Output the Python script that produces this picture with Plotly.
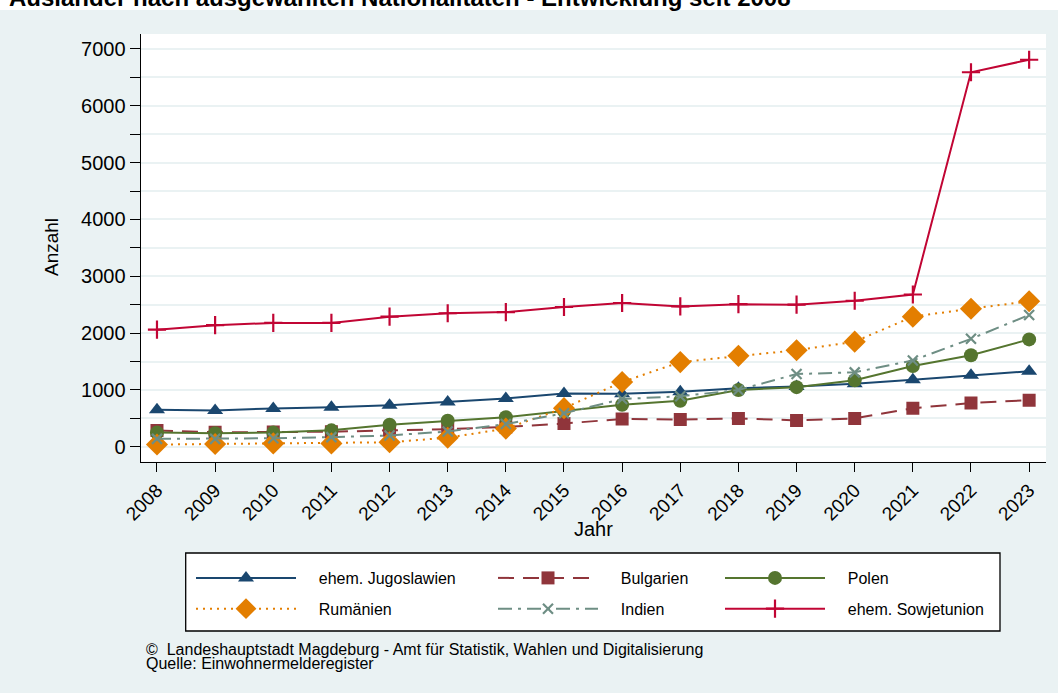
import plotly.graph_objects as go

W, H = 1058, 693

years = list(range(2008, 2024))
year_labels = [str(y) for y in years]

jugoslawien = [650, 640, 675, 695, 730, 790, 850, 940, 935, 970, 1030, 1060, 1110, 1180, 1260, 1330]
bulgarien = [285, 255, 260, 265, 290, 310, 350, 410, 490, 480, 500, 465, 500, 680, 770, 820]
polen = [250, 240, 250, 290, 390, 460, 520, 630, 740, 810, 1000, 1050, 1170, 1420, 1610, 1890]
rumaenien = [40, 50, 60, 60, 80, 160, 320, 680, 1140, 1490, 1600, 1700, 1850, 2290, 2430, 2560]
indien = [140, 140, 150, 170, 200, 270, 400, 590, 840, 890, 1000, 1280, 1310, 1520, 1900, 2320]
sowjetunion = [2060, 2140, 2180, 2180, 2290, 2350, 2370, 2460, 2530, 2470, 2510, 2500, 2570, 2680, 6590, 6810]

y_ticks = [0, 1000, 2000, 3000, 4000, 5000, 6000, 7000]

BG = "#EAF2F3"
FONT = "Liberation Sans, Arial, sans-serif"

def px(x):
    return x / W

def py(y):
    return 1 - y / H

series = [
    ("ehem. Jugoslawien", jugoslawien, "#1a476f", "solid", "triangle-up", 14, "legend"),
    ("Bulgarien", bulgarien, "#90353b", "16px,9px", "square", 13, "legend2"),
    ("Polen", polen, "#55752f", "solid", "circle", 14, "legend3"),
    ("Rumänien", rumaenien, "#e37e00", "2px,5px", "diamond", 17, "legend"),
    ("Indien", indien, "#6e8e84", "14px,6px,3px,6px", "x-thin", 10, "legend2"),
    ("ehem. Sowjetunion", sowjetunion, "#c10534", "solid", "cross-thin", 13, "legend3"),
]

fig = go.Figure()
for i, (name, vals, col, dash, sym, size, leg) in enumerate(series):
    thin = sym.endswith("-thin")
    fig.add_trace(go.Scatter(
        x=years, y=vals, name="\u00a0\u00a0\u00a0\u00a0" + name, mode="lines+markers",
        line=dict(color=col, width=2, dash=dash),
        marker=dict(symbol=sym, size=size, color=col,
                    line=dict(color=col, width=2.2 if thin else 0)),
        legend=leg, legendgroup=name,
    ))

leg_common = dict(
    orientation="v", bgcolor="rgba(0,0,0,0)", borderwidth=0,
    font=dict(family=FONT, size=16, color="#000"),
    itemwidth=100, tracegroupgap=7, xanchor="left", yanchor="top",
    itemclick=False, itemdoubleclick=False,
)

fig.update_layout(
    width=W, height=H, autosize=False,
    margin=dict(l=0, r=0, t=0, b=0, autoexpand=False),
    paper_bgcolor=BG, plot_bgcolor="white",
    font=dict(family=FONT, color="#000"),
    showlegend=True,
    legend=dict(leg_common, x=px(191), y=py(561)),
    legend2=dict(leg_common, x=px(493), y=py(561)),
    legend3=dict(leg_common, x=px(720), y=py(561)),
    xaxis=dict(
        domain=[px(140.7), px(1046)], range=[2007.72, 2023.29], automargin=False,
        tickmode="array", tickvals=years, ticktext=year_labels,
        tickangle=-45, ticks="outside", ticklen=9, tickcolor="#000", tickwidth=1.3,
        showline=True, linecolor="#000", linewidth=1.3,
        showgrid=False, zeroline=False,
        tickfont=dict(family=FONT, size=19, color="#000"),
    ),
    yaxis=dict(
        domain=[py(461.7), py(34)], range=[-262, 7263], automargin=False,
        tickmode="array", tickvals=y_ticks, ticktext=[str(v) for v in y_ticks],
        ticks="outside", ticklen=10, tickcolor="#000", tickwidth=1.3,
        showline=True, linecolor="#000", linewidth=1.3,
        showgrid=True, gridcolor=BG, gridwidth=2, zeroline=False,
        tickfont=dict(family=FONT, size=20, color="#000"),
        minor=dict(dtick=500, tick0=0, ticks="outside", ticklen=10, tickcolor="#000",
                   tickwidth=1.3, showgrid=True, gridcolor=BG, gridwidth=2),
    ),
    shapes=[
        dict(type="rect", xref="paper", yref="paper", x0=0, x1=1, y0=py(10), y1=1,
             fillcolor="white", line=dict(width=0), layer="below"),
        dict(type="rect", xref="paper", yref="paper", x0=px(185.7), x1=px(1000),
             y0=py(631), y1=py(553), fillcolor="white",
             line=dict(color="#000", width=1.3), layer="above"),
    ],
    annotations=[
        dict(text="<b>Ausländer nach ausgewählten Nationalitäten - Entwicklung seit 2008</b>",
             xref="paper", yref="paper", x=px(7), y=py(13), xanchor="left", yanchor="bottom",
             showarrow=False, font=dict(family=FONT, size=24, color="#000")),
        dict(text="Anzahl", xref="paper", yref="paper", x=px(51), y=py(247),
             xanchor="center", yanchor="middle", textangle=-90, showarrow=False,
             font=dict(family=FONT, size=19, color="#000")),
        dict(text="Jahr", xref="paper", yref="paper", x=px(593), y=py(529),
             xanchor="center", yanchor="middle", showarrow=False,
             font=dict(family=FONT, size=20, color="#000")),
        dict(text="©  Landeshauptstadt Magdeburg - Amt für Statistik, Wahlen und Digitalisierung",
             xref="paper", yref="paper", x=px(144), y=py(649), xanchor="left", yanchor="middle",
             showarrow=False, font=dict(family=FONT, size=16, color="#000")),
        dict(text="Quelle: Einwohnermelderegister",
             xref="paper", yref="paper", x=px(144), y=py(663), xanchor="left", yanchor="middle",
             showarrow=False, font=dict(family=FONT, size=16, color="#000")),
    ],
)

fig.write_html("out.html", config={"displayModeBar": False},
               post_script="document.body.style.margin='0';")
